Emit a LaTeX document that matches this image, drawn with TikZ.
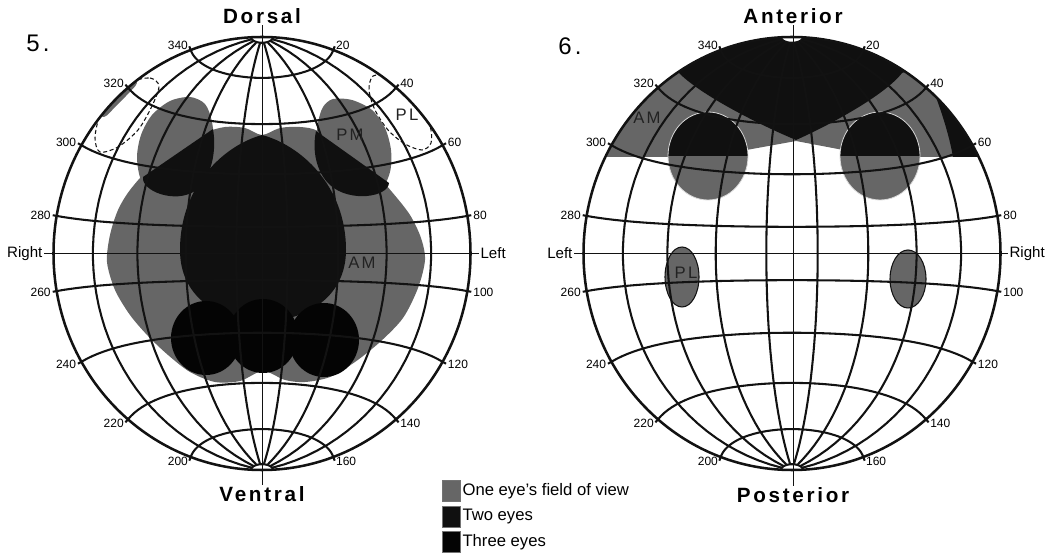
\documentclass[tikz,border=0pt]{standalone}
\usepackage{fontspec}
\setmainfont{Liberation Sans}
\newfontfamily\spacedfont[LetterSpace=13]{Liberation Sans}
\usetikzlibrary{positioning}
\definecolor{oneEye}{RGB}{102,102,102}
\definecolor{twoEyes}{RGB}{16,16,16}
\definecolor{threeEyes}{RGB}{4,4,4}
\definecolor{gridInk}{RGB}{18,18,18}
\definecolor{labelInk}{RGB}{34,34,34}
\tikzset{
  gridline/.style={draw=gridInk,line width=1.55pt},
  rimline/.style={draw=gridInk,line width=1.9pt},
  axisline/.style={draw=gridInk,line width=0.7pt},
  pldash/.style={draw=gridInk,line width=0.8pt,dash pattern=on 3pt off 2pt},
  numlbl/.style={font=\fontsize{9}{10}\selectfont,inner sep=0.6pt},
  headlbl/.style={font=\spacedfont\bfseries\fontsize{15.5}{17}\selectfont,inner sep=1pt},
  sidelbl/.style={font=\fontsize{11.3}{13}\selectfont,inner sep=1pt},
  fieldlbl/.style={font=\spacedfont\fontsize{12.5}{14}\selectfont,text=labelInk,inner sep=0pt},
  swatch/.style={draw=black!55,line width=0.4pt,minimum width=13.5pt,minimum height=15.75pt,inner sep=0pt},
  keytext/.style={font=\fontsize{12.5}{14}\selectfont,inner sep=0.5pt},
}
\begin{document}
\begin{tikzpicture}[x=0.75pt,y=-0.75pt,
  declare function={lx(\a,\b)=sin(\a)*sin(\b)/sqrt(1+sin(\a)*cos(\b));
                    ly(\a,\b)=cos(\a)/sqrt(1+sin(\a)*cos(\b));}]
\path[use as bounding box] (0,0) rectangle (1060,555);

% globe 5, dorsal view
\begin{scope}
\clip (262,253.5) ellipse [x radius=208.5,y radius=216.5];
\fill[oneEye] plot[smooth cycle] coordinates {(137,83) (126,96) (116,106) (104,117) (95,108) (115,85) (128,78)};
\draw[pldash] plot[smooth cycle] coordinates {(131,82) (150,78) (159,86) (152,106) (138,130) (118,147) (100,152) (95,138) (100,115) (113,95)};
\draw[pldash] plot[smooth cycle] coordinates {(373,76) (388,77) (403,90) (418,108) (430,126) (431,143) (422,150) (405,144) (388,130) (375,110) (369,90)};
\end{scope}
\fill[oneEye] plot[smooth cycle] coordinates {(190,97) (205,104) (212,122) (214,150) (207,178) (185,196) (160,195) (142,182) (137,158) (141,135) (152,115) (170,101)};
\fill[oneEye] plot[smooth cycle] coordinates {(333,99) (352,100) (372,110) (385,128) (391,150) (390,172) (380,192) (360,198) (335,192) (320,175) (316,150) (318,123) (323,107)};
\fill[oneEye] plot[smooth cycle] coordinates {(262,135) (280,128) (300,127) (318,131) (345,150) (372,170) (392,192) (410,215) (421,238) (425,260) (418,288) (403,318) (380,342) (355,362) (330,377) (305,382) (285,380) (263,371) (240,381) (215,382) (190,372) (168,355) (148,336) (130,315) (115,290) (107,262) (110,235) (118,210) (130,190) (150,168) (178,150) (205,133) (225,127) (245,128)};
\fill[twoEyes] (213,129) -- (143,177) .. controls (141,191) and (175,204) .. (195,191) .. controls (211,179) and (217,152) .. (213,129) -- cycle;
\fill[twoEyes] (316,131) -- (389,183) .. controls (388,197) and (350,203) .. (330,185) .. controls (316,172) and (312,150) .. (316,131) -- cycle;
\fill[twoEyes] (262,135) .. controls (300,145) and (346,185) .. (346,250) .. controls (346,295) and (310,320) .. (262,322) .. controls (215,320) and (180,295) .. (180,250) .. controls (180,185) and (225,145) .. (262,135) -- cycle;
\fill[threeEyes] (206,338) ellipse [x radius=35,y radius=37];
\fill[threeEyes] (263,336) ellipse [x radius=35,y radius=37];
\fill[threeEyes] (324,340) ellipse [x radius=35,y radius=37];

% globe 6, ventral view
\begin{scope}
\clip (792,253.5) ellipse [x radius=208.5,y radius=216.5];
\fill[oneEye] (580,30) -- (580,157) -- (708,157) -- (796,141) -- (880,157) -- (1005,157) -- (1005,30) -- cycle;
\fill[twoEyes] (650,20) -- (650,60) -- (678,72) .. controls (700,95) and (760,125) .. (796,140) .. controls (830,125) and (885,95) .. (902,73) -- (940,60) -- (940,20) -- cycle;
\fill[twoEyes] (934,92) .. controls (944,118) and (950,140) .. (953,157) -- (1005,157) -- (1005,80) -- cycle;
\end{scope}
\foreach \px in {708,880}{
  \fill[oneEye] (\px,156) ellipse [x radius=40,y radius=44];
  \begin{scope}
    \clip (600,60) rectangle (1000,156);
    \fill[twoEyes] (\px,156) ellipse [x radius=40,y radius=44];
  \end{scope}
  \draw[white!70!gray,line width=0.6pt] (\px,156) ellipse [x radius=40,y radius=44];
}
\filldraw[fill=oneEye,draw=gridInk,line width=0.8pt] (682,277) ellipse [x radius=17,y radius=30];
\filldraw[fill=oneEye,draw=gridInk,line width=0.8pt] (908,279) ellipse [x radius=18,y radius=29];

% grids
\foreach \gx in {262,792}{
  \begin{scope}[shift={(\gx,253.5)},xscale=208.5,yscale=-216.5]
    \fill[white] plot[domain=-90:90,samples=20,variable=\lng] ({lx(3,\lng)},{ly(3,\lng)}) -- cycle;
    \foreach \lng in {-70,-50,-30,-10,10,30,50,70}
      \draw[gridline] plot[domain=3:177,samples=50,variable=\clt] ({lx(\clt,\lng)},{ly(\clt,\lng)});
    \foreach \clt in {3,20,40,60,80,100,120,140,160,177}
      \draw[gridline] plot[domain=-90:90,samples=50,variable=\lng] ({lx(\clt,\lng)},{ly(\clt,\lng)});
    \draw[rimline] (0,0) circle (1);
  \end{scope}
  \foreach \c in {20,40,...,160}{
    \pgfmathtruncatemacro\back{360-\c}
    \draw[gridline] ({\gx+208.5*sin(\c)},{253.5-216.5*cos(\c)}) -- ({\gx+212.5*sin(\c)},{253.5-220.5*cos(\c)});
    \draw[gridline] ({\gx-208.5*sin(\c)},{253.5-216.5*cos(\c)}) -- ({\gx-212.5*sin(\c)},{253.5-220.5*cos(\c)});
    \node[numlbl,anchor=west] (rim\gx-\c) at ({\gx+213.5*sin(\c)},{253.5-221.5*cos(\c)}) {\c};
    \node[numlbl,anchor=east] (rim\gx-\back) at ({\gx-213.5*sin(\c)},{253.5-221.5*cos(\c)}) {\back};
  }
}

% axes and headings
\node[headlbl] (dorsal) at (262,16) {Dorsal};
\node[headlbl] (ventral) at (262,494) {Ventral};
\node[headlbl] (anterior) at (793,16) {Anterior};
\node[headlbl] (posterior) at (793,495) {Posterior};
\draw[axisline] (dorsal) -- (ventral);
\draw[axisline] (anterior) -- (posterior);
\node[sidelbl,anchor=east] (rightdors) at (44,253.5) {Right};
\node[sidelbl,anchor=west] (leftdors) at (479,253.5) {Left};
\node[sidelbl,anchor=east] (leftvent) at (574,253.5) {Left};
\node[sidelbl,anchor=west] (rightvent) at (1008,253.5) {Right};
\draw[axisline] (rightdors) -- (leftdors);
\draw[axisline] (leftvent) -- (rightvent);
\node[font=\spacedfont\fontsize{18}{20}\selectfont] (figfive) at (38,43) {5.};
\node[font=\spacedfont\fontsize{18}{20}\selectfont] (figsix) at (570,46) {6.};

% eye fields
\node[fieldlbl] (pmdors) at (350,135) {PM};
\node[fieldlbl] (pldors) at (407,115) {PL};
\node[fieldlbl] (amdors) at (362,263) {AM};
\node[fieldlbl] (amvent) at (647,118) {AM};
\node[fieldlbl] (plvent) at (686,273) {PL};

% key
\node[swatch,fill=oneEye] (keyone) at (451,491) {};
\node[swatch,fill=twoEyes,below=3pt of keyone] (keytwo) {};
\node[swatch,fill=threeEyes,below=3pt of keytwo] (keythree) {};
\node[keytext,right=1pt of keyone] (keyonetxt) {One eye's field of view};
\node[keytext,right=1pt of keytwo] (keytwotxt) {Two eyes};
\node[keytext,right=1pt of keythree] (keythreetxt) {Three eyes};
\end{tikzpicture}
\end{document}
